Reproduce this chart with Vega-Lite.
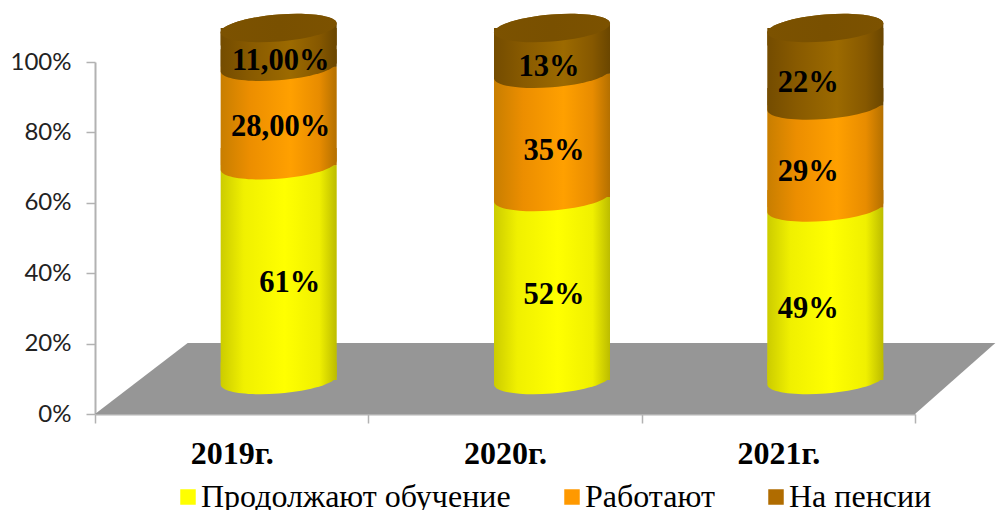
{
"$schema":"https://vega.github.io/schema/vega-lite/v6.json",
"width":820,"height":352,
"autosize":{"type":"none"},
"padding":{"left":95,"top":62,"right":81,"bottom":96},
"background":"white",
"config":{"view":{"stroke":null}},
"resolve":{"scale":{"x":"independent"}},
"layer":[
{"data":{"values":[{"pos":0,"top":0,"bottom":0},{"pos":11.3,"top":20.2,"bottom":0},{"pos":100,"top":20.2,"bottom":0},{"pos":109.8,"top":20.2,"bottom":20.2}]},
 "mark":{"type":"area","color":"#969696","clip":false,"opacity":1},
 "encoding":{
  "x":{"field":"pos","type":"quantitative","scale":{"domain":[0,100],"nice":false,"zero":false},"axis":null},
  "y":{"field":"top","type":"quantitative","stack":null,"scale":{"domain":[0,100],"nice":false},
   "axis":{"values":[0,20,40,60,80,100],"labelExpr":"datum.value+'%'","title":null,"grid":false,"domainColor":"#b2b2b2","domainWidth":2,"tickColor":"#b2b2b2","tickWidth":1.5,"tickSize":9,"labelFont":"Lato","labelFontSize":24,"labelColor":"#222222","labelPadding":15}},
  "y2":{"field":"bottom"}
 }},
{"data":{"values":[
 {"year":"2019г.","series":"Продолжают обучение","order":1,"value":61,"label":"61%"},
 {"year":"2019г.","series":"Работают","order":2,"value":28,"label":"28,00%"},
 {"year":"2019г.","series":"На пенсии","order":3,"value":11,"label":"11,00%"},
 {"year":"2020г.","series":"Продолжают обучение","order":1,"value":52,"label":"52%"},
 {"year":"2020г.","series":"Работают","order":2,"value":35,"label":"35%"},
 {"year":"2020г.","series":"На пенсии","order":3,"value":13,"label":"13%"},
 {"year":"2021г.","series":"Продолжают обучение","order":1,"value":49,"label":"49%"},
 {"year":"2021г.","series":"Работают","order":2,"value":29,"label":"29%"},
 {"year":"2021г.","series":"На пенсии","order":3,"value":22,"label":"22%"}
 ]},
 "transform":[{"stack":"value","groupby":["year"],"sort":[{"field":"order","order":"ascending"}],"as":["start","end"]},{"calculate":"(datum.start+datum.end)/2","as":"mid"}],
 "encoding":{
  "x":{"field":"year","type":"nominal","title":null,"scale":{"paddingInner":0,"paddingOuter":0},
   "axis":{"tickBand":"extent","labelAngle":0,"domainColor":"#b2b2b2","domainWidth":2,"tickColor":"#b2b2b2","tickWidth":1.5,"tickSize":9,"labelFont":"Liberation Serif","labelFontWeight":"bold","labelFontSize":32,"labelColor":"#000000","labelPadding":15}}
 },
 "layer":[
  {"mark":{"type":"bar","width":115,"xOffset":47,"yOffset":-34,"y2Offset":-34},
   "encoding":{"y":{"field":"start","type":"quantitative","stack":null,"scale":{"domain":[0,100],"nice":false}},"y2":{"field":"end"},
    "color":{"field":"series","type":"nominal","scale":{"domain":["Продолжают обучение","Работают","На пенсии"],"range":["#ffff00","#ff9900","#b06c00"]},
     "legend":{"title":null,"orient":"none","legendX":77,"legendY":419,"direction":"horizontal","columns":3,"symbolType":"square","symbolSize":240,"symbolStrokeWidth":0,"labelFont":"Liberation Serif","labelFontSize":32,"labelColor":"#000000","labelOffset":-3,"columnPadding":45,"labelLimit":500}}}},
  {"transform":[{"filter":"datum.order==1"}],
   "layer":[
    {"mark":{"type":"point","filled":true,"opacity":1,"size":13456,"xOffset":47,"yOffset":-34,"shape":"M1,-0.078 C1,0.051 0.552,0.19 0,0.233 C-0.552,0.276 -1,0.207 -1,0.078 L-1,-0.3 L1,-0.3 Z",
     "fill":{"gradient":"linear","x1":0,"x2":1,"y1":0,"y2":0,"stops":[{"offset":0,"color":"#cccc00"},{"offset":0.2,"color":"#f0f000"},{"offset":0.55,"color":"#ffff00"},{"offset":0.85,"color":"#f0f000"},{"offset":1,"color":"#bcbc00"}]}},
     "encoding":{"y":{"field":"start","type":"quantitative","stack":null,"scale":{"domain":[0,100],"nice":false}}}},
    {"mark":{"type":"bar","width":116,"xOffset":47,"yOffset":-34,"y2Offset":-34,
     "fill":{"gradient":"linear","x1":0,"x2":1,"y1":0,"y2":0,"stops":[{"offset":0,"color":"#cccc00"},{"offset":0.2,"color":"#f0f000"},{"offset":0.55,"color":"#ffff00"},{"offset":0.85,"color":"#f0f000"},{"offset":1,"color":"#bcbc00"}]}},
     "encoding":{"y":{"field":"start","type":"quantitative","stack":null,"scale":{"domain":[0,100],"nice":false}},"y2":{"field":"end"}}}
   ]},
  {"transform":[{"filter":"datum.order==2"}],
   "layer":[
    {"mark":{"type":"point","filled":true,"opacity":1,"size":13456,"xOffset":47,"yOffset":-34,"shape":"M1,-0.078 C1,0.051 0.552,0.19 0,0.233 C-0.552,0.276 -1,0.207 -1,0.078 L-1,-0.3 L1,-0.3 Z",
     "fill":{"gradient":"linear","x1":0,"x2":1,"y1":0,"y2":0,"stops":[{"offset":0,"color":"#c87e00"},{"offset":0.25,"color":"#ec8e00"},{"offset":0.6,"color":"#ffa000"},{"offset":0.85,"color":"#e88c00"},{"offset":1,"color":"#b47000"}]}},
     "encoding":{"y":{"field":"start","type":"quantitative","stack":null,"scale":{"domain":[0,100],"nice":false}}}},
    {"mark":{"type":"bar","width":116,"xOffset":47,"yOffset":-34,"y2Offset":-34,
     "fill":{"gradient":"linear","x1":0,"x2":1,"y1":0,"y2":0,"stops":[{"offset":0,"color":"#c87e00"},{"offset":0.25,"color":"#ec8e00"},{"offset":0.6,"color":"#ffa000"},{"offset":0.85,"color":"#e88c00"},{"offset":1,"color":"#b47000"}]}},
     "encoding":{"y":{"field":"start","type":"quantitative","stack":null,"scale":{"domain":[0,100],"nice":false}},"y2":{"field":"end"}}}
   ]},
  {"transform":[{"filter":"datum.order==3"}],
   "layer":[
    {"mark":{"type":"point","filled":true,"opacity":1,"size":13456,"xOffset":47,"yOffset":-34,"shape":"M1,-0.078 C1,0.051 0.552,0.19 0,0.233 C-0.552,0.276 -1,0.207 -1,0.078 L-1,-0.3 L1,-0.3 Z",
     "fill":{"gradient":"linear","x1":0,"x2":1,"y1":0,"y2":0,"stops":[{"offset":0,"color":"#744c00"},{"offset":0.25,"color":"#885a00"},{"offset":0.6,"color":"#9c6a00"},{"offset":0.85,"color":"#865800"},{"offset":1,"color":"#6a4600"}]}},
     "encoding":{"y":{"field":"start","type":"quantitative","stack":null,"scale":{"domain":[0,100],"nice":false}}}},
    {"mark":{"type":"bar","width":116,"xOffset":47,"yOffset":-34,"y2Offset":-34,
     "fill":{"gradient":"linear","x1":0,"x2":1,"y1":0,"y2":0,"stops":[{"offset":0,"color":"#744c00"},{"offset":0.25,"color":"#885a00"},{"offset":0.6,"color":"#9c6a00"},{"offset":0.85,"color":"#865800"},{"offset":1,"color":"#6a4600"}]}},
     "encoding":{"y":{"field":"start","type":"quantitative","stack":null,"scale":{"domain":[0,100],"nice":false}},"y2":{"field":"end"}}},
    {"mark":{"type":"point","filled":true,"opacity":1,"size":13456,"xOffset":47,"yOffset":-34,"shape":"M-1,0.078 C-1,-0.051 -0.552,-0.19 0,-0.233 C0.552,-0.276 1,-0.207 1,-0.078 L1,0.3 L-1,0.3 Z",
     "fill":{"gradient":"linear","x1":0,"x2":1,"y1":0,"y2":0,"stops":[{"offset":0,"color":"#744c00"},{"offset":0.25,"color":"#885a00"},{"offset":0.6,"color":"#9c6a00"},{"offset":0.85,"color":"#865800"},{"offset":1,"color":"#6a4600"}]}},
     "encoding":{"y":{"field":"end","type":"quantitative","stack":null,"scale":{"domain":[0,100],"nice":false}}}},
    {"mark":{"type":"point","filled":true,"opacity":1,"size":13456,"xOffset":47,"yOffset":-34,"shape":"M1,-0.078 C1,0.051 0.552,0.19 0,0.233 C-0.552,0.276 -1,0.207 -1,0.078 C-1,-0.051 -0.552,-0.19 0,-0.233 C0.552,-0.276 1,-0.207 1,-0.078 Z",
     "fill":{"gradient":"linear","x1":0,"x2":1,"y1":0,"y2":0,"stops":[{"offset":0,"color":"#7c5200"},{"offset":0.5,"color":"#795000"},{"offset":1,"color":"#7c5200"}]}},
     "encoding":{"y":{"field":"end","type":"quantitative","stack":null,"scale":{"domain":[0,100],"nice":false}}}}
   ]},
  {"mark":{"type":"text","font":"Liberation Serif","fontWeight":"bold","fontSize":30.5,"color":"#000000","baseline":"middle","align":"center",
    "dx":{"expr":"{'11,00%':49,'28,00%':49,'61%':58,'13%':44,'35%':49,'52%':49,'22%':30,'29%':30,'49%':30}[datum.label]"},
    "dy":{"expr":"{'11,00%':-20,'28,00%':-23,'61%':-24,'13%':-18,'35%':-18,'52%':-27,'22%':-18,'29%':-18,'49%':-19}[datum.label]"}},
   "encoding":{"y":{"field":"mid","type":"quantitative","stack":null,"scale":{"domain":[0,100],"nice":false}},"text":{"field":"label"}}}
 ]}
]}
